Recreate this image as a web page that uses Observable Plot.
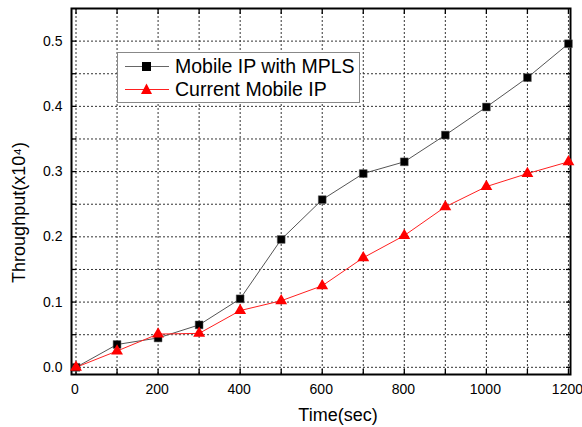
<!DOCTYPE html>
<html><head><meta charset="utf-8">
<script src="https://cdn.jsdelivr.net/npm/d3@7"></script>
<script src="https://cdn.jsdelivr.net/npm/@observablehq/plot@0.6"></script>
<style>
body{margin:0;background:#fff}
#wrap{position:relative;width:582px;height:427px;font-family:"Liberation Sans",Arial,sans-serif}
#legend{position:absolute;left:117px;top:52px;width:243px;height:51px;border:1px solid #888;background:#fff;box-sizing:border-box}
.row{position:absolute;left:0;height:22px;display:flex;align-items:center;font-size:19.5px;color:#000;white-space:nowrap}
.row svg{margin-left:7px;margin-right:6px}
</style>
</head><body><div id="wrap"><div id="legend"></div></div>
<script>
const times = [0,100,200,300,400,500,600,700,800,900,1000,1100,1200];
const mplsValues = [0,0.035,0.045,0.065,0.105,0.196,0.257,0.297,0.315,0.356,0.399,0.444,0.496];
const currentValues = [0,0.025,0.051,0.052,0.087,0.102,0.125,0.168,0.202,0.246,0.277,0.297,0.315];
const seriesNames = ["Mobile IP with MPLS","Current Mobile IP"];
const xLabelTicks = [0,200,400,600,800,1000,1200];
const xMinorTicks = [0,100,200,300,400,500,600,700,800,900,1000,1100,1200];
const yLabelTicks = [0,0.1,0.2,0.3,0.4,0.5];
const yMinorTicks = [0,0.05,0.1,0.15,0.2,0.25,0.3,0.35,0.4,0.45,0.5];
const xTitle = "Time(sec)";
const yTitle = "Throughput(x10⁴)";

const mpls = times.map((t,i)=>({t, v: mplsValues[i]}));
const cur = times.map((t,i)=>({t, v: currentValues[i]}));

const dash = "2,2";
const chart = Plot.plot({
  width: 582, height: 427,
  marginLeft: 71, marginRight: 12, marginTop: 8, marginBottom: 53,
  style: {fontFamily: '"Liberation Sans", Arial, sans-serif', fontSize: "14px", color: "#000", background: "#fff"},
  x: {domain: [-11, 1205]},
  y: {domain: [-0.011, 0.55]},
  marks: [
    Plot.ruleX(xMinorTicks, {x: d=>d, stroke: "#333", strokeWidth: 1, strokeDasharray: dash}),
    Plot.ruleY(yMinorTicks, {y: d=>d, stroke: "#333", strokeWidth: 1, strokeDasharray: dash}),
    Plot.axisX(xMinorTicks, {anchor: "bottom", tickSize: -5, tickFormat: () => "", label: null, strokeWidth: 1.3}),
    Plot.axisX(xMinorTicks, {anchor: "top", tickSize: -5, tickFormat: () => "", label: null, strokeWidth: 1.3}),
    Plot.axisY(yMinorTicks, {anchor: "left", tickSize: -5, tickFormat: () => "", label: null, strokeWidth: 1.3}),
    Plot.axisY(yMinorTicks, {anchor: "right", tickSize: -5, tickFormat: () => "", label: null, strokeWidth: 1.3}),
    Plot.axisX(xLabelTicks, {anchor: "bottom", tickSize: 0, tickPadding: 10, label: null, tickFormat: d3.format("d"), fontSize: 14, dx: -1}),
    Plot.axisY(yLabelTicks, {anchor: "left", tickSize: 0, tickPadding: 9, label: null, tickFormat: d3.format(".1f"), fontSize: 14}),
    Plot.frame({stroke: "#000", strokeWidth: 2}),
    Plot.line(mpls, {x: "t", y: "v", stroke: "#555", strokeWidth: 1}),
    Plot.line(cur, {x: "t", y: "v", stroke: "#ff2020", strokeWidth: 1}),
    Plot.dot(mpls, {x: "t", y: "v", symbol: "square", r: 4.4, fill: "#000", stroke: "#555", strokeWidth: 0.5}),
    Plot.dot(cur, {x: "t", y: "v", symbol: "triangle", r: 4.4, fill: "#ff0000"}),
    Plot.text([xTitle], {frameAnchor: "bottom", text: d=>d, dy: 46, dx: 17, fontSize: 18}),
    Plot.text([yTitle], {frameAnchor: "left", textAnchor: "middle", text: d=>d, rotate: -90, dx: -52, dy: 21, fontSize: 18})
  ]
});
document.getElementById("wrap").prepend(chart);

const legend = document.getElementById("legend");
const rows = [
  {name: seriesNames[0], line: "#666", shape: '<rect x="17" y="6" width="9" height="9" fill="#000"/>'},
  {name: seriesNames[1], line: "#ff2020", shape: '<path d="M21.5,4.5 L27,15 L16,15 Z" fill="#ff0000"/>'}
];
rows.forEach((r,i)=>{
  const d = document.createElement("div");
  d.className = "row";
  d.style.top = (i === 0 ? 2 : 25) + "px";
  d.innerHTML = `<svg width="44" height="20"><line x1="0" x2="44" y1="10.5" y2="10.5" stroke="${r.line}" stroke-width="1"/>${r.shape}</svg><span>${r.name}</span>`;
  legend.appendChild(d);
});
</script>
</body></html>
